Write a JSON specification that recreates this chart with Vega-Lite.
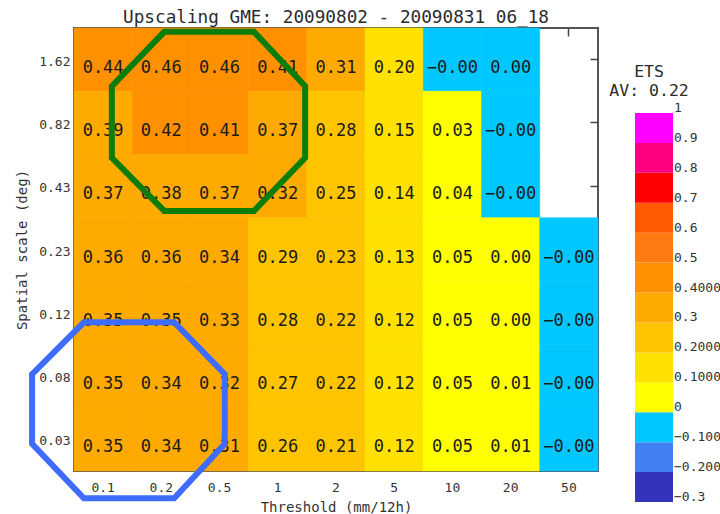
{
  "$schema": "https://vega.github.io/schema/vega-lite/v6.json",
  "background": "white",
  "padding": {"left": 14, "top": 8, "right": 0, "bottom": 0},
  "spacing": 37,
  "bounds": "flush",
  "datasets": {
    "cells": [
      {"thr": "0.1", "sc": "1.62", "v": 0.44, "t": "0.44"},
      {"thr": "0.2", "sc": "1.62", "v": 0.46, "t": "0.46"},
      {"thr": "0.5", "sc": "1.62", "v": 0.46, "t": "0.46"},
      {"thr": "1", "sc": "1.62", "v": 0.41, "t": "0.41"},
      {"thr": "2", "sc": "1.62", "v": 0.31, "t": "0.31"},
      {"thr": "5", "sc": "1.62", "v": 0.20, "t": "0.20"},
      {"thr": "10", "sc": "1.62", "v": -0.001, "t": "−0.00"},
      {"thr": "20", "sc": "1.62", "v": 0, "t": "0.00"},
      {"thr": "0.1", "sc": "0.82", "v": 0.39, "t": "0.39"},
      {"thr": "0.2", "sc": "0.82", "v": 0.42, "t": "0.42"},
      {"thr": "0.5", "sc": "0.82", "v": 0.41, "t": "0.41"},
      {"thr": "1", "sc": "0.82", "v": 0.37, "t": "0.37"},
      {"thr": "2", "sc": "0.82", "v": 0.28, "t": "0.28"},
      {"thr": "5", "sc": "0.82", "v": 0.15, "t": "0.15"},
      {"thr": "10", "sc": "0.82", "v": 0.03, "t": "0.03"},
      {"thr": "20", "sc": "0.82", "v": -0.001, "t": "−0.00"},
      {"thr": "0.1", "sc": "0.43", "v": 0.37, "t": "0.37"},
      {"thr": "0.2", "sc": "0.43", "v": 0.38, "t": "0.38"},
      {"thr": "0.5", "sc": "0.43", "v": 0.37, "t": "0.37"},
      {"thr": "1", "sc": "0.43", "v": 0.32, "t": "0.32"},
      {"thr": "2", "sc": "0.43", "v": 0.25, "t": "0.25"},
      {"thr": "5", "sc": "0.43", "v": 0.14, "t": "0.14"},
      {"thr": "10", "sc": "0.43", "v": 0.04, "t": "0.04"},
      {"thr": "20", "sc": "0.43", "v": -0.001, "t": "−0.00"},
      {"thr": "0.1", "sc": "0.23", "v": 0.36, "t": "0.36"},
      {"thr": "0.2", "sc": "0.23", "v": 0.36, "t": "0.36"},
      {"thr": "0.5", "sc": "0.23", "v": 0.34, "t": "0.34"},
      {"thr": "1", "sc": "0.23", "v": 0.29, "t": "0.29"},
      {"thr": "2", "sc": "0.23", "v": 0.23, "t": "0.23"},
      {"thr": "5", "sc": "0.23", "v": 0.13, "t": "0.13"},
      {"thr": "10", "sc": "0.23", "v": 0.05, "t": "0.05"},
      {"thr": "20", "sc": "0.23", "v": 0.001, "t": "0.00"},
      {"thr": "50", "sc": "0.23", "v": -0.001, "t": "−0.00"},
      {"thr": "0.1", "sc": "0.12", "v": 0.35, "t": "0.35"},
      {"thr": "0.2", "sc": "0.12", "v": 0.35, "t": "0.35"},
      {"thr": "0.5", "sc": "0.12", "v": 0.33, "t": "0.33"},
      {"thr": "1", "sc": "0.12", "v": 0.28, "t": "0.28"},
      {"thr": "2", "sc": "0.12", "v": 0.22, "t": "0.22"},
      {"thr": "5", "sc": "0.12", "v": 0.12, "t": "0.12"},
      {"thr": "10", "sc": "0.12", "v": 0.05, "t": "0.05"},
      {"thr": "20", "sc": "0.12", "v": 0.001, "t": "0.00"},
      {"thr": "50", "sc": "0.12", "v": -0.001, "t": "−0.00"},
      {"thr": "0.1", "sc": "0.08", "v": 0.35, "t": "0.35"},
      {"thr": "0.2", "sc": "0.08", "v": 0.34, "t": "0.34"},
      {"thr": "0.5", "sc": "0.08", "v": 0.32, "t": "0.32"},
      {"thr": "1", "sc": "0.08", "v": 0.27, "t": "0.27"},
      {"thr": "2", "sc": "0.08", "v": 0.22, "t": "0.22"},
      {"thr": "5", "sc": "0.08", "v": 0.12, "t": "0.12"},
      {"thr": "10", "sc": "0.08", "v": 0.05, "t": "0.05"},
      {"thr": "20", "sc": "0.08", "v": 0.01, "t": "0.01"},
      {"thr": "50", "sc": "0.08", "v": -0.001, "t": "−0.00"},
      {"thr": "0.1", "sc": "0.03", "v": 0.35, "t": "0.35"},
      {"thr": "0.2", "sc": "0.03", "v": 0.34, "t": "0.34"},
      {"thr": "0.5", "sc": "0.03", "v": 0.31, "t": "0.31"},
      {"thr": "1", "sc": "0.03", "v": 0.26, "t": "0.26"},
      {"thr": "2", "sc": "0.03", "v": 0.21, "t": "0.21"},
      {"thr": "5", "sc": "0.03", "v": 0.12, "t": "0.12"},
      {"thr": "10", "sc": "0.03", "v": 0.05, "t": "0.05"},
      {"thr": "20", "sc": "0.03", "v": 0.01, "t": "0.01"},
      {"thr": "50", "sc": "0.03", "v": -0.001, "t": "−0.00"}
    ],
    "green": [
      {"ord": 0, "u": 1.05, "w": 6.44},
      {"ord": 1, "u": 2.59, "w": 6.44},
      {"ord": 2, "u": 3.47, "w": 5.58},
      {"ord": 3, "u": 3.47, "w": 4.45},
      {"ord": 4, "u": 2.59, "w": 3.61},
      {"ord": 5, "u": 1.05, "w": 3.61},
      {"ord": 6, "u": 0.15, "w": 4.45},
      {"ord": 7, "u": 0.15, "w": 5.58},
      {"ord": 8, "u": 1.05, "w": 6.44},
      {"ord": 9, "u": 2.59, "w": 6.44}
    ],
    "blue": [
      {"ord": 0, "u": -0.33, "w": 1.85},
      {"ord": 1, "u": 1.22, "w": 1.85},
      {"ord": 2, "u": 2.09, "w": 1.03},
      {"ord": 3, "u": 2.09, "w": -0.07},
      {"ord": 4, "u": 1.22, "w": -0.93},
      {"ord": 5, "u": -0.33, "w": -0.93},
      {"ord": 6, "u": -1.22, "w": -0.07},
      {"ord": 7, "u": -1.22, "w": 1.03},
      {"ord": 8, "u": -0.33, "w": 1.85},
      {"ord": 9, "u": 1.22, "w": 1.85}
    ],
    "bar": [
      {"lo": -0.3, "hi": -0.2},
      {"lo": -0.2, "hi": -0.1},
      {"lo": -0.1, "hi": 0},
      {"lo": 0, "hi": 0.1},
      {"lo": 0.1, "hi": 0.2},
      {"lo": 0.2, "hi": 0.3},
      {"lo": 0.3, "hi": 0.4},
      {"lo": 0.4, "hi": 0.5},
      {"lo": 0.5, "hi": 0.6},
      {"lo": 0.6, "hi": 0.7},
      {"lo": 0.7, "hi": 0.8},
      {"lo": 0.8, "hi": 0.9},
      {"lo": 0.9, "hi": 1}
    ],
    "barlabels": [
      {"at": -0.3, "lab": "−0.3"},
      {"at": -0.2, "lab": "−0.200"},
      {"at": -0.1, "lab": "−0.100"},
      {"at": 0, "lab": "0"},
      {"at": 0.1, "lab": "0.1000"},
      {"at": 0.2, "lab": "0.2000"},
      {"at": 0.3, "lab": "0.3"},
      {"at": 0.4, "lab": "0.4000"},
      {"at": 0.5, "lab": "0.5"},
      {"at": 0.6, "lab": "0.6"},
      {"at": 0.7, "lab": "0.7"},
      {"at": 0.8, "lab": "0.8"},
      {"at": 0.9, "lab": "0.9"},
      {"at": 1, "lab": "1"}
    ]
  },
  "hconcat": [
    {
      "width": 524,
      "height": 443,
      "view": {"stroke": "#555555", "strokeWidth": 2},
      "title": {"text": "Upscaling GME: 20090802 - 20090831 06_18", "font": "DejaVu Sans Mono", "fontSize": 17.7, "fontWeight": "normal", "color": "#2b2b2b", "offset": -7, "anchor": "middle"},
      "resolve": {"scale": {"x": "independent", "y": "independent"}},
      "layer": [
        {
          "data": {"name": "cells"},
          "mark": {"type": "rect", "strokeWidth": 0.6},
          "encoding": {
            "x": {"field": "thr", "type": "ordinal", "scale": {"type": "band", "domain": ["0.1", "0.2", "0.5", "1", "2", "5", "10", "20", "50"], "paddingInner": 0, "paddingOuter": 0},
              "axis": {"title": "Threshold (mm/12h)", "labelAngle": 0, "ticks": false, "domain": false, "labelPadding": 10, "titlePadding": 6, "labelFontSize": 13, "titleFontSize": 14}},
            "y": {"field": "sc", "type": "ordinal", "scale": {"type": "band", "domain": ["1.62", "0.82", "0.43", "0.23", "0.12", "0.08", "0.03"], "paddingInner": 0, "paddingOuter": 0},
              "axis": {"title": "Spatial scale (deg)", "ticks": false, "domain": false, "labelPadding": 4, "titlePadding": 9, "labelFontSize": 13, "titleFontSize": 14, "labelOffset": 2}},
            "color": {"field": "v", "type": "quantitative", "legend": null,
              "scale": {"type": "threshold", "domain": [-0.1999, -0.0999, 0.0001, 0.1001, 0.2001, 0.3001, 0.4001, 0.5001, 0.6001, 0.7001, 0.8001, 0.9001],
                "range": ["#3333bb", "#4080f0", "#00c8ff", "#ffff00", "#ffe100", "#ffc400", "#ffaa00", "#ff9100", "#ff7a10", "#ff5a00", "#ff0000", "#ff0080", "#ff00ff"]}},
            "stroke": {"field": "v", "type": "quantitative", "legend": null,
              "scale": {"type": "threshold", "domain": [-0.1999, -0.0999, 0.0001, 0.1001, 0.2001, 0.3001, 0.4001, 0.5001, 0.6001, 0.7001, 0.8001, 0.9001],
                "range": ["#3333bb", "#4080f0", "#00c8ff", "#ffff00", "#ffe100", "#ffc400", "#ffaa00", "#ff9100", "#ff7a10", "#ff5a00", "#ff0000", "#ff0080", "#ff00ff"]}}
          }
        },
        {
          "data": {"name": "cells"},
          "mark": {"type": "text", "font": "DejaVu Sans Mono", "fontSize": 17, "color": "#1a1a1a", "baseline": "middle", "dy": 8},
          "encoding": {
            "x": {"field": "thr", "type": "ordinal", "scale": {"type": "band", "domain": ["0.1", "0.2", "0.5", "1", "2", "5", "10", "20", "50"], "paddingInner": 0, "paddingOuter": 0},
              "axis": {"orient": "top", "title": null, "labels": false, "domain": false, "ticks": true, "tickSize": -8, "tickWidth": 1.5, "tickColor": "#444444"}},
            "y": {"field": "sc", "type": "ordinal", "scale": {"type": "band", "domain": ["1.62", "0.82", "0.43", "0.23", "0.12", "0.08", "0.03"], "paddingInner": 0, "paddingOuter": 0},
              "axis": {"orient": "right", "title": null, "labels": false, "domain": false, "ticks": true, "tickSize": -8, "tickWidth": 1.5, "tickColor": "#444444"}},
            "text": {"field": "t", "type": "nominal"}
          }
        },
        {
          "data": {"name": "green"},
          "mark": {"type": "line", "color": "#0b7d0b", "strokeWidth": 6, "strokeJoin": "miter"},
          "encoding": {
            "x": {"field": "u", "type": "quantitative", "scale": {"domain": [-0.5, 8.5], "nice": false, "zero": false}, "axis": null},
            "y": {"field": "w", "type": "quantitative", "scale": {"domain": [-0.5, 6.5], "nice": false, "zero": false}, "axis": null},
            "order": {"field": "ord", "type": "quantitative"}
          }
        },
        {
          "data": {"name": "blue"},
          "mark": {"type": "line", "color": "#3d6cff", "strokeWidth": 6, "strokeJoin": "miter"},
          "encoding": {
            "x": {"field": "u", "type": "quantitative", "scale": {"domain": [-0.5, 8.5], "nice": false, "zero": false}, "axis": null},
            "y": {"field": "w", "type": "quantitative", "scale": {"domain": [-0.5, 6.5], "nice": false, "zero": false}, "axis": null},
            "order": {"field": "ord", "type": "quantitative"}
          }
        }
      ]
    },
    {
      "width": 38,
      "height": 474,
      "view": {"stroke": null},
      "layer": [
        {
          "data": {"name": "bar"},
          "mark": {"type": "rect"},
          "encoding": {
            "x": {"datum": 0, "type": "quantitative", "scale": {"domain": [0, 1], "nice": false, "zero": false}, "axis": null},
            "x2": {"datum": 1},
            "y": {"field": "lo", "type": "quantitative", "scale": {"domain": [-0.3, 1.284], "nice": false, "zero": false}, "axis": null},
            "y2": {"field": "hi"},
            "color": {"field": "hi", "type": "quantitative", "legend": null,
              "scale": {"type": "threshold", "domain": [-0.1999, -0.0999, 0.0001, 0.1001, 0.2001, 0.3001, 0.4001, 0.5001, 0.6001, 0.7001, 0.8001, 0.9001],
                "range": ["#3333bb", "#4080f0", "#00c8ff", "#ffff00", "#ffe100", "#ffc400", "#ffaa00", "#ff9100", "#ff7a10", "#ff5a00", "#ff0000", "#ff0080", "#ff00ff"]}}
          }
        },
        {
          "data": {"name": "barlabels"},
          "mark": {"type": "text", "font": "DejaVu Sans Mono", "fontSize": 13, "color": "#333333", "baseline": "alphabetic", "align": "left", "dx": 1, "dy": -1},
          "encoding": {
            "x": {"datum": 1, "type": "quantitative"},
            "y": {"field": "at", "type": "quantitative"},
            "text": {"field": "lab", "type": "nominal"}
          }
        },
        {
          "data": {"values": [{"label": "ETS"}]},
          "mark": {"type": "text", "font": "DejaVu Sans Mono", "fontSize": 16.5, "color": "#2b2b2b", "baseline": "middle", "align": "center"},
          "encoding": {
            "x": {"datum": 0.37, "type": "quantitative"},
            "y": {"datum": 1.136, "type": "quantitative"},
            "text": {"field": "label", "type": "nominal"}
          }
        },
        {
          "data": {"values": [{"label": "AV: 0.22"}]},
          "mark": {"type": "text", "font": "DejaVu Sans Mono", "fontSize": 16.5, "color": "#2b2b2b", "baseline": "middle", "align": "center"},
          "encoding": {
            "x": {"datum": 0.37, "type": "quantitative"},
            "y": {"datum": 1.072, "type": "quantitative"},
            "text": {"field": "label", "type": "nominal"}
          }
        }
      ]
    }
  ],
  "config": {
    "axis": {"labelFont": "DejaVu Sans Mono", "titleFont": "DejaVu Sans Mono", "labelColor": "#333333", "titleColor": "#333333", "titleFontWeight": "normal", "grid": false}
  }
}
